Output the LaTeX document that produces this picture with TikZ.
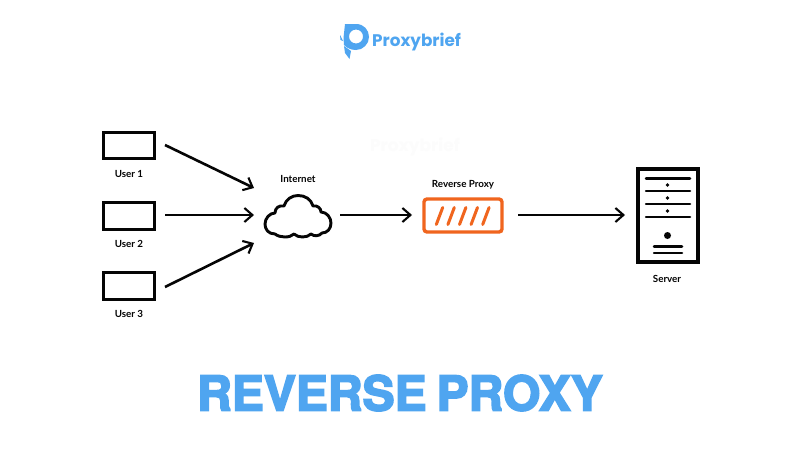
\documentclass[tikz,border=0pt]{standalone}
\usepackage{fontspec}
\setmainfont{Lato}
\newfontfamily\logofont{Poppins}
\newfontfamily\titlefont[BoldFeatures={FakeBold=3.5},WordSpace=0.75]{TeX Gyre Heros}
\usetikzlibrary{arrows.meta}
\definecolor{brandblue}{HTML}{4FA5F0}
\definecolor{proxyorange}{HTML}{F0651E}
\definecolor{ink}{HTML}{050505}
\tikzset{
  x=1pt,y=-1pt,
  userbox/.style={draw=ink,line width=3.6pt},
  caption/.style={font=\fontsize{9.8}{11}\selectfont\bfseries,text=ink,inner sep=0pt},
  link/.style={draw=ink,line width=2.6pt,-{Straight Barb[length=8pt,width=14pt,line width=2.1pt]}},
  srvline/.style={draw=ink,line width=2.5pt,line cap=round},
  slashmark/.style={draw=proxyorange,line width=3pt,line cap=round},
}
\begin{document}
\begin{tikzpicture}
\useasboundingbox (0,0) rectangle (800,450);
\fill[white] (0,0) rectangle (800,450);
% watermark
\node[font=\logofont\bfseries\fontsize{17}{20}\selectfont,text=black!1,inner sep=0pt] (mark) at (415,147) {Proxybrief};
% logo
\fill[brandblue,even odd rule] (345,24) -- (356,24) .. controls (364,24) and (369,30) .. (369,37) .. controls (369,44) and (363,50) .. (356,50) .. controls (351,50) and (347,48) .. (344,45) -- (343.5,38) -- cycle
  (356,36.5) circle[radius=7];
\fill[brandblue] (344,46) -- (351,51) -- (349.5,59) -- (345,53) -- cycle;
\fill[brandblue] (340,35) -- (343,41) -- (340.5,40) -- cycle;
\node[font=\logofont\bfseries\fontsize{16.8}{20}\selectfont,text=brandblue,inner sep=0pt,anchor=base west] (brand) at (372,46) {Proxybrief};
% users
\node[userbox,minimum width=51pt,minimum height=26pt,inner sep=0pt] (u1) at (129,145.5) {};
\node[userbox,minimum width=51pt,minimum height=27pt,inner sep=0pt] (u2) at (129,216) {};
\node[userbox,minimum width=51pt,minimum height=27pt,inner sep=0pt] (u3) at (129,286) {};
\node[caption] (l1) at (129,174) {User 1};
\node[caption] (l2) at (129,244) {User 2};
\node[caption] (l3) at (129,314) {User 3};
% cloud anchor
\coordinate (cin1) at (254,188);
\coordinate (cin2) at (254,215);
\coordinate (cin3) at (254,243);
\coordinate (u1o) at (165,145);
\coordinate (u2o) at (165,215);
\coordinate (u3o) at (165,287);
\draw[link] (u1o) -- (cin1);
\draw[link] (u2o) -- (cin2);
\draw[link] (u3o) -- (cin3);
% cloud
\draw[ink,line width=2.9pt,line join=round] (275,234)
  .. controls (268,234) and (265,229) .. (265,224)
  .. controls (265,218) and (270,213) .. (275,213)
  .. controls (275,208) and (279,205) .. (284,206)
  .. controls (286,199) and (292,195.5) .. (298,195.5)
  .. controls (305,195.5) and (311,199) .. (313,206)
  .. controls (317,205) and (321,208) .. (321,212)
  .. controls (327,212) and (331,218) .. (331,223)
  .. controls (331,229) and (327,233) .. (322,233)
  .. controls (319,236.5) and (314,236.5) .. (311,234)
  .. controls (307,238) and (298,238) .. (294,234)
  .. controls (290,238) and (280,238) .. (275,234) -- cycle;
\node[caption] (inet) at (298,179) {Internet};
% proxy
\node[draw=proxyorange,line width=3.4pt,rounded corners=3pt,minimum width=78pt,minimum height=33pt,inner sep=0pt] (proxy) at (463,215.5) {};
\node[caption] (pl) at (463,184.5) {Reverse Proxy};
\foreach \i in {0,1,2,3,4} {
  \draw[slashmark] (442.7+11.6*\i,207.5) -- (436.3+11.6*\i,224.5);
}
\coordinate (c2o) at (340,215);
\coordinate (p1) at (412,215);
\coordinate (p2) at (518,215);
\coordinate (s1) at (625,215);
\draw[link] (c2o) -- (p1);
\draw[link] (p2) -- (s1);
% server
\node[draw=ink,line width=3.6pt,minimum width=60pt,minimum height=93pt,inner sep=0pt] (srv) at (668,215.5) {};
\foreach \y in {178.5,191,204,217} { \draw[srvline] (646,\y) -- (690,\y); }
\foreach \y in {185,198,211} { \fill[ink] (667.5,\y) circle[radius=1.9]; }
\fill[ink] (667.5,235.5) circle[radius=3.5];
\draw[srvline] (654,246.5) -- (682,246.5);
\draw[srvline] (654,253) -- (682,253);
\node[caption] (sl) at (667,279) {Server};
% title
\node[font=\titlefont\bfseries\fontsize{48}{56}\selectfont,text=brandblue,inner sep=0pt,anchor=base west] (title) at (197,410.5) {REVERSE PROXY};
\end{tikzpicture}
\end{document}
